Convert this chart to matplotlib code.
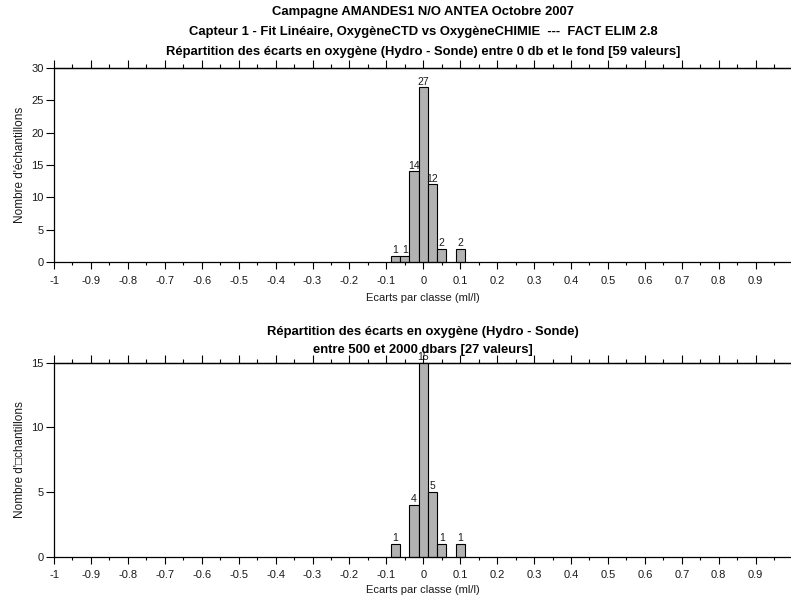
import matplotlib
matplotlib.use("Agg")
import matplotlib.pyplot as plt
import numpy as np
from matplotlib.ticker import MultipleLocator

plt.rcParams['font.family'] = ['Liberation Sans', 'DejaVu Sans']

# Data
centers_top = [-0.075, -0.05, -0.025, 0.0, 0.025, 0.05, 0.1]
counts_top = [1, 1, 14, 27, 12, 2, 2]
centers_bot = [-0.075, -0.025, 0.0, 0.025, 0.05, 0.1]
counts_bot = [1, 4, 15, 5, 1, 1]
bin_width = 0.025

title_lines_top = ["Campagne AMANDES1 N/O ANTEA Octobre 2007",
                   "Capteur 1 - Fit Linéaire, OxygèneCTD vs OxygèneCHIMIE  ---  FACT ELIM 2.8",
                   "Répartition des écarts en oxygène (Hydro - Sonde) entre 0 db et le fond [59 valeurs]"]
title_lines_bot = ["Répartition des écarts en oxygène (Hydro - Sonde)",
                   "entre 500 et 2000 dbars [27 valeurs]"]
xlabel = "Ecarts par classe (ml/l)"
ylabel_top = "Nombre d'échantillons"
ylabel_bot = "Nombre d'\u25a1chantillons"
xticks = [round(v, 1) for v in np.arange(-1.0, 0.95, 0.1)]
xticklabels = ["-1"] + [f"{v:g}" for v in xticks[1:]]
xticklabels = [("0" if t in ("-0", "0") else t) for t in xticklabels]

W, H = 791, 600
fig = plt.figure(figsize=(W / 100, H / 100), dpi=100)

def fx(px):
    return px / W

def fy(py):
    return 1 - py / H

left = 54
right = 792.6
bar_color = "#b2b2b2"
text_color = "#1a1a1a"

def make_axes(top_px, bot_px, centers, counts, ymax, yticks, ylabel):
    ax = fig.add_axes([fx(left), fy(bot_px), fx(right - left), (bot_px - top_px) / H])
    ax.bar(centers, counts, width=bin_width, color=bar_color, edgecolor="black",
           linewidth=0.8, clip_on=False)
    for c, n in zip(centers, counts):
        ax.text(c, n + ymax * 0.004, str(n), ha="center", va="bottom", fontsize=7.5,
                color=text_color)
    ax.set_xlim(-1, 1)
    ax.set_ylim(0, ymax)
    ax.set_xticks(xticks)
    ax.set_xticklabels(xticklabels, fontsize=8, color=text_color)
    ax.xaxis.set_minor_locator(MultipleLocator(0.05))
    ax.set_yticks(yticks)
    ax.set_yticklabels([str(v) for v in yticks], fontsize=8, color=text_color)
    ax.tick_params(axis="x", which="major", direction="out", length=4.8, width=0.8, pad=5)
    ax.tick_params(axis="x", which="minor", direction="out", length=2.5, width=0.8)
    ax.tick_params(axis="y", which="major", direction="out", length=6, width=0.8, pad=1.5)
    ax.spines["right"].set_visible(False)
    for s in ("left", "bottom", "top"):
        ax.spines[s].set_linewidth(0.9)
    sec = ax.secondary_xaxis("top")
    sec.set_xticks(xticks)
    sec.set_xticklabels([])
    sec.xaxis.set_minor_locator(MultipleLocator(0.05))
    sec.tick_params(axis="x", which="major", direction="out", length=6, width=0.8)
    sec.tick_params(axis="x", which="minor", direction="out", length=3, width=0.8)
    sec.spines["top"].set_linewidth(0.9)
    fig.text(fx(20), fy((top_px + bot_px) / 2), ylabel, rotation=90, ha="center",
             va="center", fontsize=8.5, color=text_color)
    return ax

ax1 = make_axes(68, 262, centers_top, counts_top, 30, [0, 5, 10, 15, 20, 25, 30], ylabel_top)
ax2 = make_axes(362.7, 556.7, centers_bot, counts_bot, 15, [0, 5, 10, 15], ylabel_bot)

cx = fx((left + right) / 2)
for y, t in zip([12, 32, 52], title_lines_top):
    fig.text(cx, fy(y), t, ha="center", va="center", fontsize=9.4, fontweight="bold")
for y, t in zip([332, 350], title_lines_bot):
    fig.text(cx, fy(y), t, ha="center", va="center", fontsize=9.4, fontweight="bold")
fig.text(cx, fy(298), xlabel, ha="center", va="center", fontsize=8, color=text_color)
fig.text(cx, fy(590), xlabel, ha="center", va="center", fontsize=8, color=text_color)

fig.savefig("out.png", dpi=100)
